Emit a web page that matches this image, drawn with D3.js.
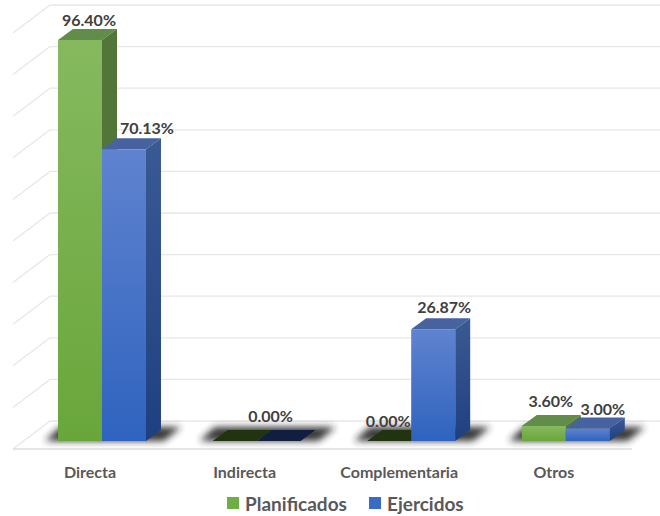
<!DOCTYPE html>
<html>
<head>
<meta charset="utf-8">
<script src="https://cdn.jsdelivr.net/npm/d3@7"></script>
<style>
  html, body { margin: 0; padding: 0; background: #fff; }
  svg { display: block; font-family: Lato, "Open Sans", sans-serif; }
</style>
</head>
<body>
<div id="chart"></div>
<script>
const categories = ['Directa', 'Indirecta', 'Complementaria', 'Otros'];
const seriesNames = ['Planificados', 'Ejercidos'];
const planificados = [96.40, 0, 0, 3.60];
const ejercidos = [70.13, 0, 26.87, 3.00];
const gridTicks = [0, 10, 20, 30, 40, 50, 60, 70, 80, 90, 100];

const width = 660;
const height = 516;
const depth = { x: 15, y: 11 };
const wall = { x: 37, y: 28 };

const palette = {
  Planificados: { top: '#86b95f', bottom: '#69a63a', side: '#52763a', cap: '#618c49', zero: '#22340f', key: '#6fae45' },
  Ejercidos: { top: '#5f83cf', bottom: '#2f63bf', side: '#3a5a94', sideBottom: '#1f4080', cap: '#47639f', zero: '#101f3f', key: '#3a6cc6' }
};

// hand placed labels, the original chart nudges them around
const labelNudge = {
  'Directa|Planificados': [9, -20],
  'Directa|Ejercidos': [23, -22],
  'Indirecta|Ejercidos': [-8, -26],
  'Complementaria|Planificados': [-1, -21],
  'Complementaria|Ejercidos': [11, -23],
  'Otros|Planificados': [7, -26],
  'Otros|Ejercidos': [15, -20]
};

const rows = categories.flatMap((category, i) => [
  { category, series: seriesNames[0], value: planificados[i] },
  { category, series: seriesNames[1], value: ejercidos[i] }
]);

const svg = d3.select('#chart')
  .append('svg')
  .attr('width', width)
  .attr('height', height);

const x = d3.scaleBand()
  .domain(categories)
  .range([24.7, 643.1])
  .paddingInner(0.431)
  .paddingOuter(0.2155);

const x1 = d3.scaleBand()
  .domain(seriesNames)
  .range([0, x.bandwidth()]);

const y = d3.scaleLinear()
  .domain([0, 100])
  .range([441, 25]);

const defs = svg.append('defs');

defs.append('filter')
  .attr('id', 'soft')
  .attr('x', '-30%').attr('y', '-100%')
  .attr('width', '160%').attr('height', '300%')
  .append('feGaussianBlur')
  .attr('stdDeviation', 3.8);

function gradient(id, top, bottom) {
  const g = defs.append('linearGradient')
    .attr('id', id)
    .attr('x1', 0).attr('y1', 0)
    .attr('x2', 0).attr('y2', 1);
  g.append('stop').attr('offset', '0%').attr('stop-color', top);
  g.append('stop').attr('offset', '100%').attr('stop-color', bottom);
}

gradient('front-Planificados', palette.Planificados.top, palette.Planificados.bottom);
gradient('front-Ejercidos', palette.Ejercidos.top, palette.Ejercidos.bottom);
gradient('side-Planificados', palette.Planificados.side, palette.Planificados.side);
gradient('side-Ejercidos', palette.Ejercidos.side, palette.Ejercidos.sideBottom);

// back wall and side wall gridlines
const wallBack = v => y(v) - 20;
const grid = svg.append('g')
  .attr('fill', 'none')
  .attr('stroke', '#e7e7e7')
  .attr('stroke-width', 1.3);

grid.selectAll('.back')
  .data(gridTicks)
  .enter()
  .append('line')
  .attr('class', 'back')
  .attr('x1', 50)
  .attr('x2', width)
  .attr('y1', wallBack)
  .attr('y2', wallBack);

grid.selectAll('.diag')
  .data(gridTicks)
  .enter()
  .append('line')
  .attr('class', 'diag')
  .attr('x1', 50)
  .attr('x2', 50 - wall.x)
  .attr('y1', wallBack)
  .attr('y2', d => wallBack(d) + wall.y);

grid.append('line')
  .attr('x1', 50 - wall.x)
  .attr('x2', 632)
  .attr('y1', wallBack(0) + wall.y)
  .attr('y2', wallBack(0) + wall.y)
  .attr('stroke', '#dcdcdc');

// floor shadows
svg.append('g').selectAll('path')
  .data(categories)
  .enter()
  .append('path')
  .attr('d', d => {
    const x0 = x(d) - 13;
    const x2 = x(d) + x.bandwidth() + 8;
    const base = y(0);
    return `M${x0},${base}L${x0 + depth.x},${base - depth.y - 3}L${x2 + depth.x + 12},${base - depth.y - 3}L${x2 + 10},${base}Z`;
  })
  .attr('fill', '#222')
  .attr('opacity', 0.9)
  .attr('filter', 'url(#soft)');

const bars = svg.append('g').selectAll('g')
  .data(rows)
  .enter()
  .append('g');

const barX = d => x(d.category) + x1(d.series);
const bw = x1.bandwidth();

// top cap
bars.append('path')
  .attr('d', d => {
    const l = barX(d);
    const t = y(d.value);
    return `M${l},${t}L${l + depth.x},${t - depth.y}L${l + bw + depth.x},${t - depth.y}L${l + bw},${t}Z`;
  })
  .attr('fill', d => d.value === 0 ? palette[d.series].zero : palette[d.series].cap);

// right side
bars.filter(d => d.value > 0)
  .append('path')
  .attr('d', d => {
    const r = barX(d) + bw;
    const t = y(d.value);
    const b = y(0);
    return `M${r},${t}L${r + depth.x},${t - depth.y}L${r + depth.x},${b - depth.y}L${r},${b}Z`;
  })
  .attr('fill', d => `url(#side-${d.series})`);

// front
bars.filter(d => d.value > 0)
  .append('rect')
  .attr('x', barX)
  .attr('y', d => y(d.value))
  .attr('width', bw)
  .attr('height', d => y(0) - y(d.value))
  .attr('fill', d => `url(#front-${d.series})`);

// data labels, Indirecta only shows one in the original
svg.append('g').selectAll('text')
  .data(rows.filter(d => labelNudge[`${d.category}|${d.series}`]))
  .enter()
  .append('text')
  .attr('x', d => barX(d) + bw / 2 + labelNudge[`${d.category}|${d.series}`][0])
  .attr('y', d => y(d.value) + labelNudge[`${d.category}|${d.series}`][1])
  .attr('text-anchor', 'middle')
  .attr('dominant-baseline', 'central')
  .attr('font-size', 16)
  .attr('font-weight', 700)
  .attr('fill', '#404040')
  .text(d => d3.format('.2f')(d.value) + '%');

// category labels
svg.append('g').selectAll('text')
  .data(categories)
  .enter()
  .append('text')
  .attr('x', d => x(d) + x.bandwidth() / 2 - 12)
  .attr('y', 471)
  .attr('text-anchor', 'middle')
  .attr('dominant-baseline', 'central')
  .attr('font-size', 16)
  .attr('font-weight', 700)
  .attr('fill', '#595959')
  .text(d => d);

// legend
const legendStart = { Planificados: 227, Ejercidos: 369 };
const legend = svg.append('g').selectAll('g')
  .data(seriesNames)
  .enter()
  .append('g')
  .attr('transform', d => `translate(${legendStart[d]},497)`);

legend.append('rect')
  .attr('width', 12)
  .attr('height', 12)
  .attr('fill', d => palette[d].key);

legend.append('text')
  .attr('x', 18)
  .attr('y', 6)
  .attr('dominant-baseline', 'central')
  .attr('font-size', 19)
  .attr('font-weight', 700)
  .attr('fill', '#595959')
  .text(d => d);
</script>
</body>
</html>
